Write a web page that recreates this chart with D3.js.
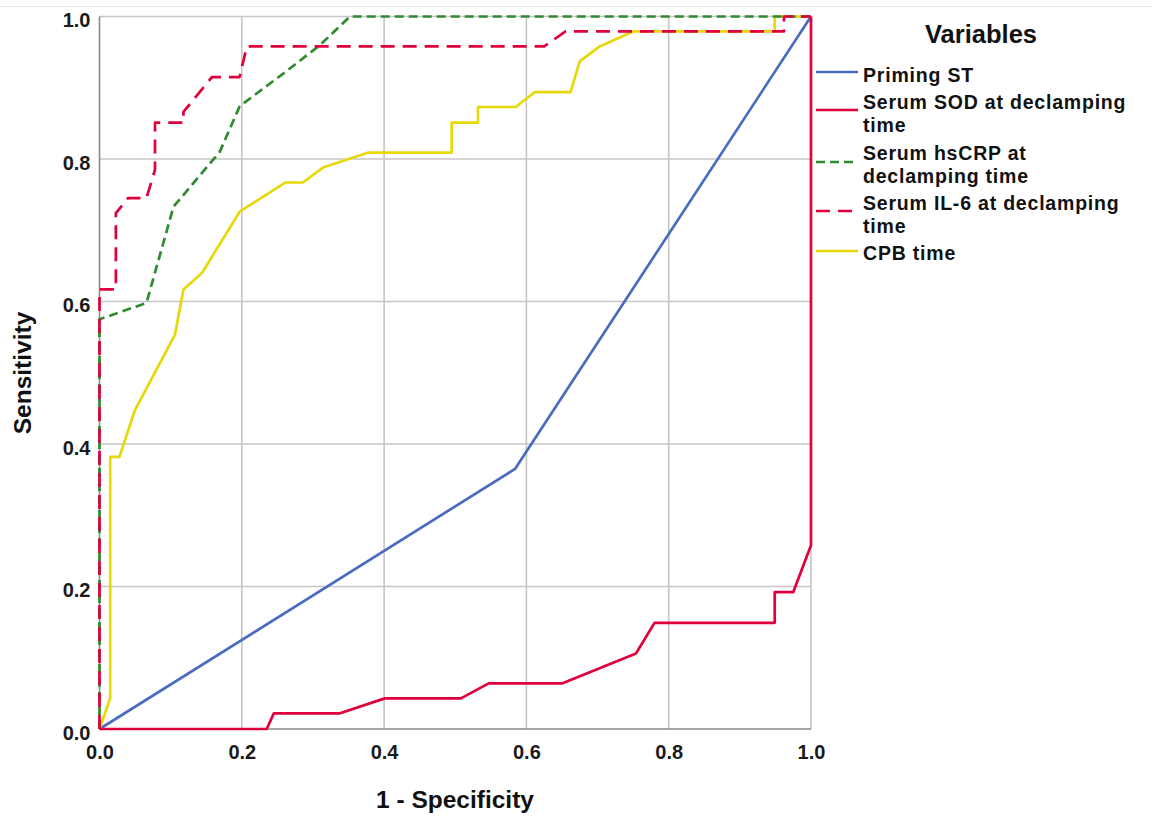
<!DOCTYPE html>
<html><head><meta charset="utf-8">
<script src="https://cdn.jsdelivr.net/npm/d3@7/dist/d3.min.js"></script>
<style>body{margin:0;background:#fff;}svg{display:block;font-family:"Liberation Sans",Arial,sans-serif;}</style>
</head><body>
<svg id="c" width="1152" height="817"></svg>
<script>
const ticks = [0, 0.2, 0.4, 0.6, 0.8, 1.0];
const tickLabels = ["0.0", "0.2", "0.4", "0.6", "0.8", "1.0"];
const seriesNames = ["Priming ST", "Serum SOD at declamping time", "Serum hsCRP at declamping time", "Serum IL-6 at declamping time", "CPB time"];
const legendLines = [["Priming ST"], ["Serum SOD at declamping", "time"], ["Serum hsCRP at", "declamping time"], ["Serum IL-6 at declamping", "time"], ["CPB time"]];
const colors = ["#4a6cbf", "#e0003c", "#2e8b2e", "#e0003c", "#e6d80a"];
const dashes = [null, null, "9,5", "14,8", null];

const primingST = [[0,0],[0.584,0.365],[1,1]];
const serumSOD = [[0,0],[0.235,0],[0.245,0.022],[0.338,0.022],[0.401,0.043],[0.508,0.043],[0.547,0.064],[0.65,0.064],[0.754,0.106],[0.78,0.149],[0.949,0.149],[0.949,0.192],[0.975,0.192],[1,0.258],[1,1]];
const serumHsCRP = [[0,0],[0,0.575],[0.066,0.598],[0.104,0.733],[0.169,0.81],[0.197,0.874],[0.265,0.925],[0.31,0.96],[0.352,1],[1,1]];
const serumIL6 = [[0,0],[0,0.617],[0.023,0.617],[0.023,0.724],[0.04,0.745],[0.066,0.745],[0.078,0.785],[0.078,0.851],[0.118,0.851],[0.118,0.866],[0.158,0.915],[0.197,0.915],[0.207,0.958],[0.625,0.958],[0.655,0.979],[0.962,0.979],[0.962,1],[1,1]];
const cpbTime = [[0,0],[0.015,0.043],[0.015,0.382],[0.028,0.382],[0.05,0.448],[0.106,0.553],[0.118,0.617],[0.144,0.64],[0.197,0.726],[0.261,0.767],[0.286,0.767],[0.314,0.788],[0.378,0.809],[0.495,0.809],[0.495,0.851],[0.532,0.851],[0.532,0.873],[0.585,0.873],[0.612,0.894],[0.662,0.894],[0.675,0.937],[0.703,0.958],[0.75,0.979],[0.949,0.979],[0.949,1],[1,1]];
const allSeries = [primingST, serumSOD, serumHsCRP, serumIL6, cpbTime];

const svg = d3.select("#c");
svg.append("rect").attr("x",0).attr("y",6).attr("width",1152).attr("height",1).attr("fill","#dfe8f5");

const x = d3.scaleLinear().domain([0,1]).range([99.5, 811]);
const y = d3.scaleLinear().domain([0,1]).range([729, 16.5]);

const g = svg.append("g");
g.selectAll("line.vx").data(ticks.slice(1)).join("line")
  .attr("x1", d=>x(d)).attr("x2", d=>x(d)).attr("y1", y(0)).attr("y2", y(1))
  .attr("stroke","#c6c6c6").attr("stroke-width",1.6);
g.selectAll("line.hy").data(ticks.slice(1)).join("line")
  .attr("y1", d=>y(d)).attr("y2", d=>y(d)).attr("x1", x(0)).attr("x2", x(1))
  .attr("stroke","#c6c6c6").attr("stroke-width",1.6);
g.append("line").attr("x1",x(0)).attr("x2",x(0)).attr("y1",y(0)).attr("y2",y(1)).attr("stroke","#8a8a8a").attr("stroke-width",1.6);
g.append("line").attr("x1",x(0)).attr("x2",x(1)).attr("y1",y(0)).attr("y2",y(0)).attr("stroke","#8a8a8a").attr("stroke-width",1.6);

const xAxis = d3.axisBottom(x).tickValues(ticks).tickFormat((d,i)=>tickLabels[i]).tickSize(0).tickPadding(0);
const xa = svg.append("g").attr("transform",`translate(0,${y(0)})`).call(xAxis);
xa.select(".domain").remove();
xa.selectAll("text").attr("dy",null).attr("y",30).attr("font-size",20).attr("font-weight","bold").attr("font-family","Liberation Sans, Arial, sans-serif").attr("fill","#1a1a1a");
const yAxis = d3.axisLeft(y).tickValues(ticks).tickFormat((d,i)=>tickLabels[i]).tickSize(0).tickPadding(0);
const ya = svg.append("g").attr("transform",`translate(${x(0)-9},0)`).call(yAxis);
ya.select(".domain").remove();
ya.selectAll("text").attr("dy",null).attr("y",10).attr("x",0).attr("font-size",20).attr("font-weight","bold").attr("font-family","Liberation Sans, Arial, sans-serif").attr("fill","#1a1a1a");

const line = d3.line().x(d=>x(d[0])).y(d=>y(d[1]));
const order = [0,4,2,3,1];
order.forEach(i=>{
  svg.append("path").attr("d", line(allSeries[i])).attr("fill","none")
    .attr("stroke", colors[i]).attr("stroke-width", 2.7)
    .attr("stroke-dasharray", dashes[i]).attr("stroke-linejoin","round");
});

svg.append("text").attr("x",455).attr("y",808).attr("text-anchor","middle")
  .attr("font-size",24.5).attr("font-weight","bold").attr("fill","#111").text("1 - Specificity");
svg.append("text").attr("transform","translate(31,373) rotate(-90)").attr("text-anchor","middle")
  .attr("font-size",24.5).attr("font-weight","bold").attr("fill","#111").text("Sensitivity");

svg.append("text").attr("x",981).attr("y",43).attr("text-anchor","middle")
  .attr("font-size",25.5).attr("font-weight","bold").attr("fill","#111").text("Variables");
const legY = [72, 110, 162, 211, 251];
const textY = [[82],[109,131.5],[160,182.5],[210,232.5],[260]];
legendLines.forEach((lines,i)=>{
  svg.append("line").attr("x1",816).attr("x2",858).attr("y1",legY[i]).attr("y2",legY[i])
    .attr("stroke",colors[i]).attr("stroke-width",2.7).attr("stroke-dasharray",dashes[i]);
  lines.forEach((s,j)=>{
    svg.append("text").attr("x",863).attr("y",textY[i][j]).attr("font-size",19.5)
      .attr("letter-spacing",0.8).attr("font-weight","bold").attr("fill","#111").text(s);
  });
});
</script>
</body></html>
